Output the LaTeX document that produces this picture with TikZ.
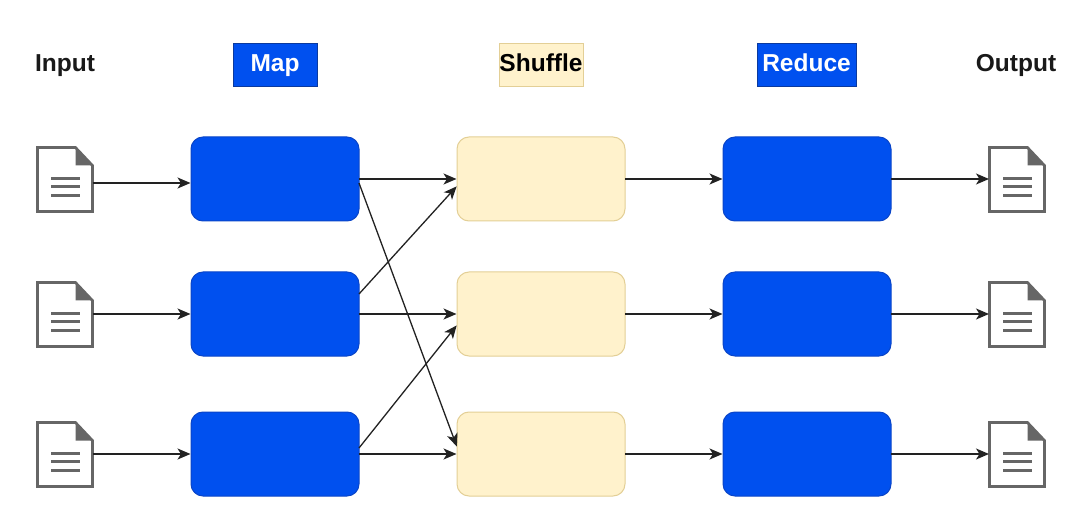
\documentclass[tikz,border=0pt]{standalone}
\usepackage{fontspec}
\setmainfont{Liberation Sans}
\usetikzlibrary{arrows.meta}
\definecolor{cobalt}{HTML}{0050EF}
\definecolor{cobaltedge}{HTML}{0A45C8}
\definecolor{headedge}{HTML}{0B3A9E}
\definecolor{cream}{HTML}{FFF2CC}
\definecolor{creamedge}{HTML}{E3CF96}
\definecolor{docgrey}{HTML}{666666}
\definecolor{linegrey}{HTML}{222222}
\tikzset{
  x=1pt,y=-1pt,
  bluebox/.style={draw=cobaltedge,fill=cobalt,line width=1pt,rounded corners=12pt,minimum width=168pt,minimum height=84pt,inner sep=0pt,outer sep=0pt},
  creambox/.style={draw=creamedge,fill=cream,line width=1pt,rounded corners=12pt,minimum width=168pt,minimum height=84pt,inner sep=0pt,outer sep=0pt},
  headblue/.style={draw=headedge,fill=cobalt,line width=0.8pt,minimum height=43pt,inner sep=0pt,outer sep=0pt,text=white,text height=18pt,text depth=3pt,font=\fontsize{24.5}{26}\selectfont\bfseries},
  headcream/.style={draw=creamedge,fill=cream,line width=0.8pt,minimum height=43pt,inner sep=0pt,outer sep=0pt,text=black,text height=18pt,text depth=3pt,font=\fontsize{24.5}{26}\selectfont\bfseries},
  plainlabel/.style={inner sep=0pt,text=black!90,text height=18pt,text depth=3pt,font=\fontsize{24.5}{26}\selectfont\bfseries},
  docnode/.style={minimum width=55pt,minimum height=64pt,inner sep=0pt,outer sep=0pt},
  flow/.style={draw=linegrey,line width=1.3pt,-{Stealth[length=13pt,width=11pt,inset=3.5pt]},shorten >=0.5pt}
}
% name, centre x, centre y
\newcommand{\docicon}[3]{%
  \node[docnode] (#1) at (#2,#3) {};
  \draw[docgrey,line width=2.6pt,fill=white,line join=miter]
    (#1.north west) -- ([xshift=-17pt]#1.north east) -- ([yshift=-18pt]#1.north east) -- (#1.south east) -- (#1.south west) -- cycle;
  \fill[docgrey] ([xshift=-17pt]#1.north east) -- ([yshift=-18pt]#1.north east) -- ([xshift=-17pt,yshift=-18pt]#1.north east) -- cycle;
  \draw[docgrey,line width=2.4pt]
    ([xshift=-14pt,yshift=33pt]#1.south) -- ([xshift=15pt,yshift=33pt]#1.south)
    ([xshift=-14pt,yshift=25pt]#1.south) -- ([xshift=15pt,yshift=25pt]#1.south)
    ([xshift=-14pt,yshift=16pt]#1.south) -- ([xshift=15pt,yshift=16pt]#1.south);
}
\begin{document}
\begin{tikzpicture}
\useasboundingbox (0,0) rectangle (1084,529);
\fill[white] (0,0) rectangle (1084,529);

\node[plainlabel] (inputlabel) at (65,64.5) {Input};
\node[headblue,minimum width=84pt] (maphead) at (275,64.5) {Map};
\node[headcream,minimum width=84pt] (shufflehead) at (541,64.5) {Shuffle};
\node[headblue,minimum width=99pt] (reducehead) at (806.5,64.5) {Reduce};
\node[plainlabel] (outputlabel) at (1016,64.5) {Output};

\docicon{in1}{65}{179.5}
\docicon{in2}{65}{314.5}
\docicon{in3}{65}{454.5}
\docicon{out1}{1017}{179.5}
\docicon{out2}{1017}{314.5}
\docicon{out3}{1017}{454.5}

\node[bluebox] (m1) at (275,179) {};
\node[bluebox] (m2) at (275,314) {};
\node[bluebox] (m3) at (275,454) {};
\node[creambox] (s1) at (541,179) {};
\node[creambox] (s2) at (541,314) {};
\node[creambox] (s3) at (541,454) {};
\node[bluebox] (r1) at (807,179) {};
\node[bluebox] (r2) at (807,314) {};
\node[bluebox] (r3) at (807,454) {};

\draw[flow] ([yshift=-4pt]m1.west -| in1.east) -- ([yshift=-4pt]m1.west);
\draw[flow] (in2.east |- m2.west) -- (m2.west);
\draw[flow] (in3.east |- m3.west) -- (m3.west);

\draw[flow] (m1.east) -- (s1.west);
\draw[flow] (m2.east) -- (s2.west);
\draw[flow] (m3.east) -- (s3.west);
\draw[flow] ([yshift=-4pt]m1.east) -- ([yshift=7pt]s3.west);
\draw[flow] ([yshift=20pt]m2.east) -- ([yshift=-7pt]s1.west);
\draw[flow] ([yshift=6pt]m3.east) -- ([yshift=-11pt]s2.west);

\draw[flow] (s1.east) -- (r1.west);
\draw[flow] (s2.east) -- (r2.west);
\draw[flow] (s3.east) -- (r3.west);

\draw[flow] (r1.east) -- (out1.west |- r1.east);
\draw[flow] (r2.east) -- (out2.west |- r2.east);
\draw[flow] (r3.east) -- (out3.west |- r3.east);
\end{tikzpicture}
\end{document}
